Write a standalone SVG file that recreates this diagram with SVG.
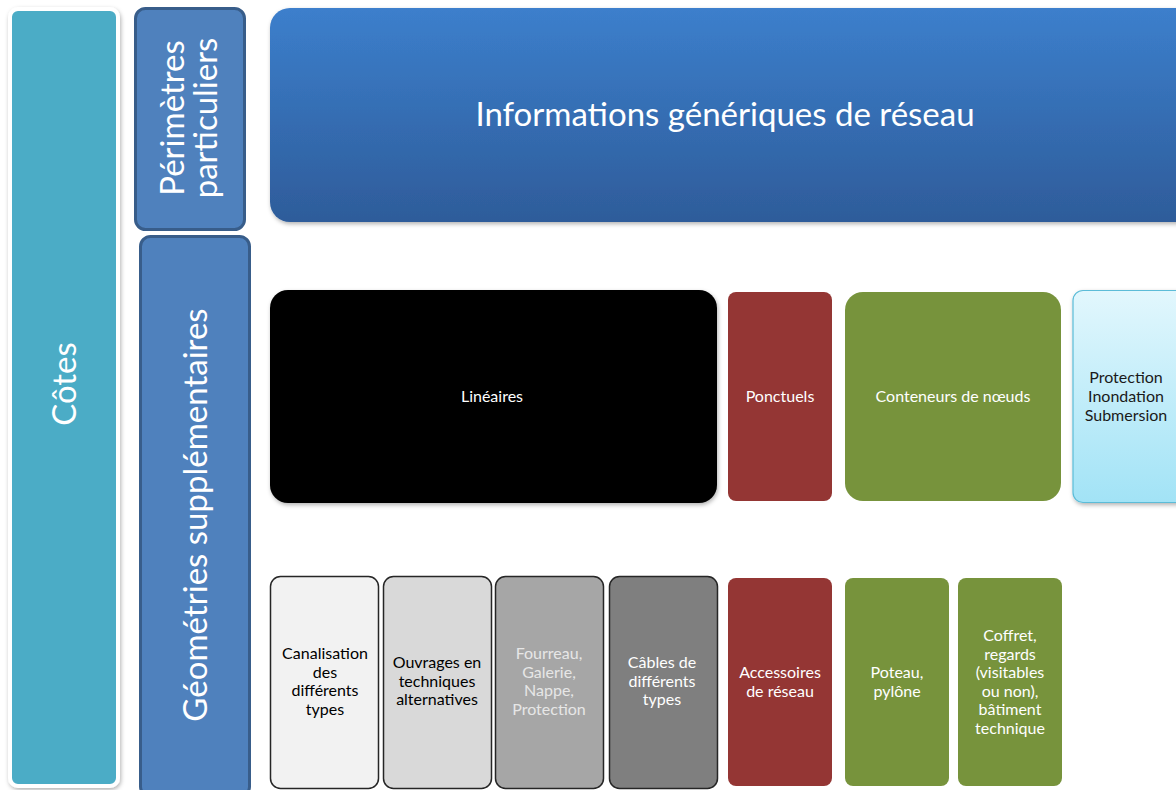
<svg xmlns="http://www.w3.org/2000/svg" width="1176" height="790" viewBox="0 0 1176 790">
<defs>
<linearGradient id="gBlue" x1="0" y1="0" x2="0" y2="1"><stop offset="0" stop-color="#3C7FCC"/><stop offset="1" stop-color="#2E5C9A"/></linearGradient>
<linearGradient id="gCyan" x1="0" y1="0" x2="0" y2="1"><stop offset="0" stop-color="#E2F7FD"/><stop offset="1" stop-color="#A2E3F6"/></linearGradient>
<filter id="sh" x="-10%" y="-10%" width="120%" height="120%"><feDropShadow dx="1" dy="2" stdDeviation="2" flood-color="#000" flood-opacity="0.3"/></filter>
<style>
text{font-family:"Lato","Liberation Sans",sans-serif;text-anchor:middle}
.w{fill:#FFFFFF}
.s14{font-size:16px}
.big{font-size:33px}
.red{fill:#943634}
.green{fill:#77933C}
.gbox{stroke:#262626;stroke-width:1.5}
</style>
</defs>
<rect width="1176" height="790" fill="#FFFFFF"/>
<g id="cotes">
<rect x="10" y="9" width="108" height="777" rx="8" fill="#4BACC6" stroke="#FFFFFF" stroke-width="4" filter="url(#sh)"/>
<text class="w big" transform="translate(76,384) rotate(-90)">Côtes</text>
</g>
<g id="perimetres">
<rect x="135.5" y="8.5" width="109" height="221" rx="10" fill="#4F81BD" stroke="#385D8A" stroke-width="3"/>
<text class="w big" transform="translate(184,118) rotate(-90)">Périmètres</text>
<text class="w big" transform="translate(217,118) rotate(-90)">particuliers</text>
</g>
<g id="geometries">
<rect x="140.5" y="236.5" width="109" height="560" rx="10" fill="#4F81BD" stroke="#385D8A" stroke-width="3"/>
<text class="w big" transform="translate(207,515) rotate(-90)">Géométries supplémentaires</text>
</g>
<g id="infos">
<rect x="270" y="8" width="930" height="214" rx="20" fill="url(#gBlue)" filter="url(#sh)"/>
<text class="w big" x="725" y="126">Informations génériques de réseau</text>
</g>
<g id="lineaires">
<rect x="270" y="290" width="447" height="213" rx="18" fill="#000000" filter="url(#sh)"/>
<text class="w s14" x="492" y="402">Linéaires</text>
</g>
<g id="ponctuels">
<rect x="728" y="292" width="104" height="209" rx="8" class="red"/>
<text class="w s14" x="780" y="402">Ponctuels</text>
</g>
<g id="conteneurs">
<rect x="845" y="292" width="216" height="209" rx="18" class="green"/>
<text class="w s14" x="953" y="402">Conteneurs de nœuds</text>
</g>
<g id="protection">
<rect x="1073" y="290.5" width="120" height="212" rx="10" fill="url(#gCyan)" stroke="#5BBCD8" stroke-width="1.2" filter="url(#sh)"/>
<text class="s14" fill="#1A1A1A" x="1126" y="383">Protection</text>
<text class="s14" fill="#1A1A1A" x="1126" y="402">Inondation</text>
<text class="s14" fill="#1A1A1A" x="1126" y="421">Submersion</text>
</g>
<g id="canalisation">
<rect x="270.5" y="576.5" width="108" height="212" rx="10" fill="#F2F2F2" class="gbox"/>
<text class="s14" fill="#000" x="325" y="659">Canalisation</text>
<text class="s14" fill="#000" x="325" y="678">des</text>
<text class="s14" fill="#000" x="325" y="696">différents</text>
<text class="s14" fill="#000" x="325" y="715">types</text>
</g>
<g id="ouvrages">
<rect x="383.5" y="576.5" width="108" height="212" rx="10" fill="#D9D9D9" class="gbox"/>
<text class="s14" fill="#000" x="437" y="668">Ouvrages en</text>
<text class="s14" fill="#000" x="437" y="687">techniques</text>
<text class="s14" fill="#000" x="437" y="705">alternatives</text>
</g>
<g id="fourreau">
<rect x="495.5" y="576.5" width="108" height="212" rx="10" fill="#A6A6A6" class="gbox"/>
<text class="s14" fill="#E6E6E6" x="549" y="659">Fourreau,</text>
<text class="s14" fill="#E6E6E6" x="549" y="678">Galerie,</text>
<text class="s14" fill="#E6E6E6" x="549" y="696">Nappe,</text>
<text class="s14" fill="#E6E6E6" x="549" y="715">Protection</text>
</g>
<g id="cables">
<rect x="609.5" y="576.5" width="108" height="212" rx="10" fill="#7F7F7F" class="gbox"/>
<text class="w s14" x="662" y="668">Câbles de</text>
<text class="w s14" x="662" y="687">différents</text>
<text class="w s14" x="662" y="705">types</text>
</g>
<g id="accessoires">
<rect x="728" y="578" width="104" height="208" rx="8" class="red"/>
<text class="w s14" x="780" y="678">Accessoires</text>
<text class="w s14" x="780" y="697">de réseau</text>
</g>
<g id="poteau">
<rect x="845" y="578" width="104" height="208" rx="8" class="green"/>
<text class="w s14" x="897" y="678">Poteau,</text>
<text class="w s14" x="897" y="697">pylône</text>
</g>
<g id="coffret">
<rect x="958" y="578" width="104" height="208" rx="8" class="green"/>
<text class="w s14" x="1010" y="641">Coffret,</text>
<text class="w s14" x="1010" y="660">regards</text>
<text class="w s14" x="1010" y="678">(visitables</text>
<text class="w s14" x="1010" y="697">ou non),</text>
<text class="w s14" x="1010" y="715">bâtiment</text>
<text class="w s14" x="1010" y="734">technique</text>
</g>
<g id="connectors"/>
</svg>
